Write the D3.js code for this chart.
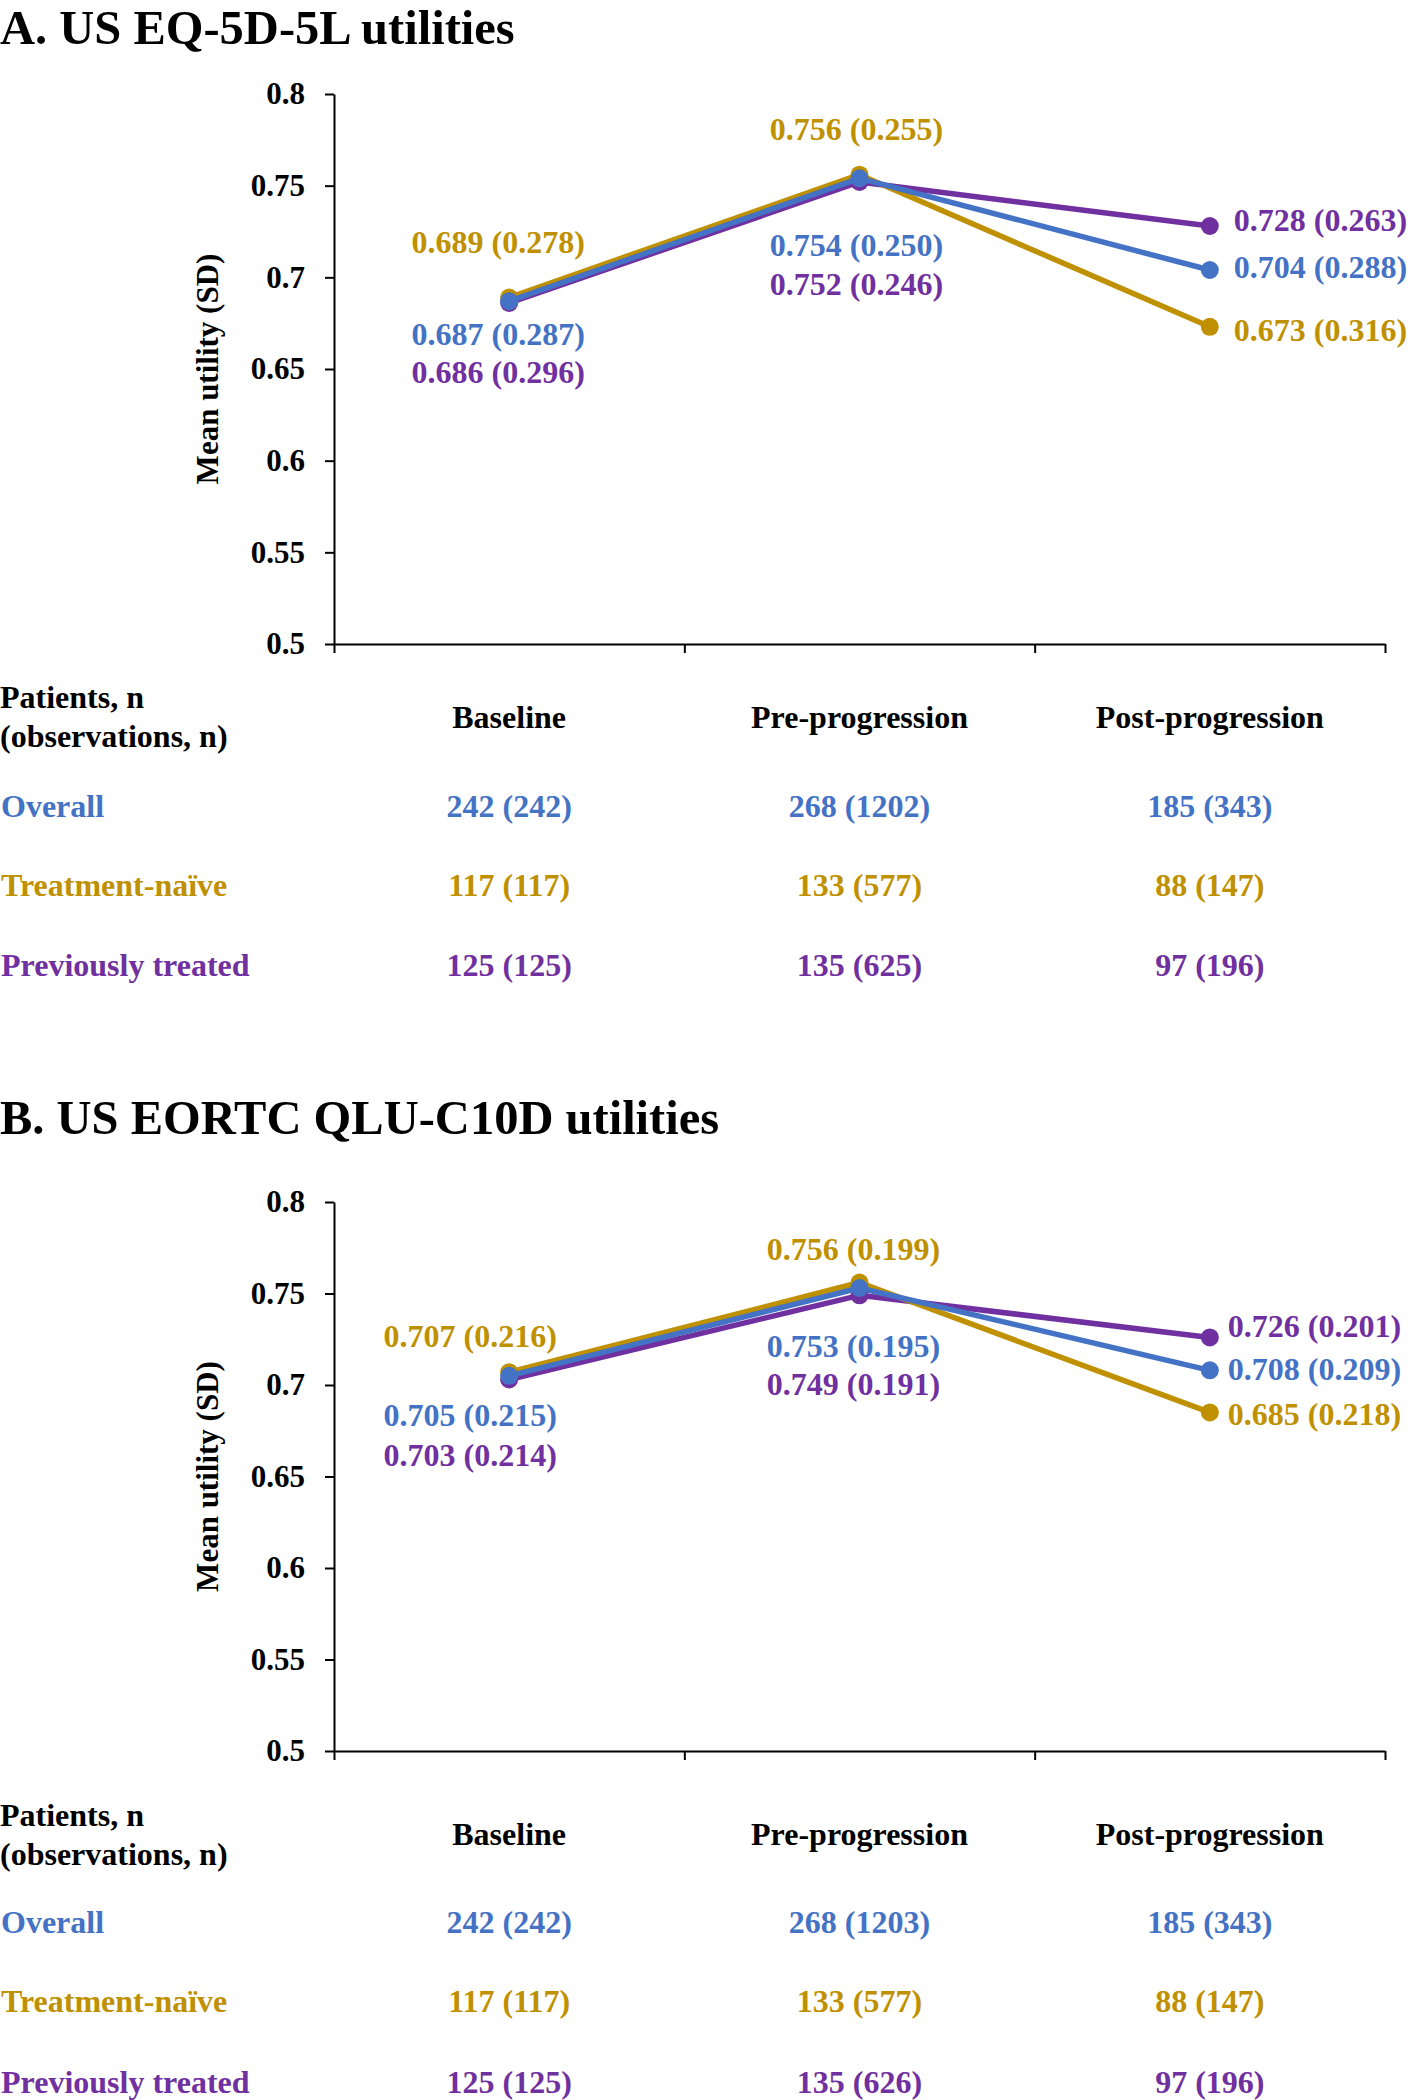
<!DOCTYPE html>
<html>
<head>
<meta charset="utf-8">
<script src="https://cdn.jsdelivr.net/npm/d3@7"></script>
<style>
  body { margin: 0; background: #fff; }
  svg { display: block; }
  text { font-family: "Liberation Serif", "Times New Roman", serif; font-weight: bold; }
</style>
</head>
<body>
<svg width="1411" height="2100"></svg>
<script>
// categories / series
const categories = ["Baseline", "Pre-progression", "Post-progression"];
const seriesNames = ["Overall", "Treatment-naïve", "Previously treated"];
const seriesColors = ["#4472C4", "#BF9000", "#7030A0"];
const yTicks = [0.5, 0.55, 0.6, 0.65, 0.7, 0.75, 0.8];

// A. EQ-5D-5L
const eqOverallMean = [0.687, 0.754, 0.704];
const eqOverallSd = [0.287, 0.250, 0.288];
const eqNaiveMean = [0.689, 0.756, 0.673];
const eqNaiveSd = [0.278, 0.255, 0.316];
const eqPrevMean = [0.686, 0.752, 0.728];
const eqPrevSd = [0.296, 0.246, 0.263];
const eqOverallPatients = [242, 268, 185];
const eqOverallObs = [242, 1202, 343];
const eqNaivePatients = [117, 133, 88];
const eqNaiveObs = [117, 577, 147];
const eqPrevPatients = [125, 135, 97];
const eqPrevObs = [125, 625, 196];

// B. QLU-C10D
const qluOverallMean = [0.705, 0.753, 0.708];
const qluOverallSd = [0.215, 0.195, 0.209];
const qluNaiveMean = [0.707, 0.756, 0.685];
const qluNaiveSd = [0.216, 0.199, 0.218];
const qluPrevMean = [0.703, 0.749, 0.726];
const qluPrevSd = [0.214, 0.191, 0.201];
const qluOverallPatients = [242, 268, 185];
const qluOverallObs = [242, 1203, 343];
const qluNaivePatients = [117, 133, 88];
const qluNaiveObs = [117, 577, 147];
const qluPrevPatients = [125, 135, 97];
const qluPrevObs = [125, 626, 196];

const svg = d3.select("svg");
const fmt3 = d3.format(".3f");

// x is shared by both panels
const left = 334, right = 1385;
const x = d3.scaleBand().domain(categories).range([left, right]).padding(0);
const xEdge = d3.scaleLinear().domain([0, categories.length]).range([left, right]);

function drawPanel(p) {
    const g = svg.append("g");
    const y = d3.scaleLinear().domain([0.5, 0.8]).range([p.bottom, p.top]);

    g.append("text")
        .attr("x", 0).attr("y", p.titleY)
        .attr("font-size", 48.5)
        .text(p.title);

    // y axis
    const ya = g.append("g")
        .attr("transform", `translate(${left},0)`)
        .call(d3.axisLeft(y).tickValues(yTicks).tickFormat(d => String(d))
            .tickSize(9).tickSizeOuter(0).tickPadding(20));
    ya.selectAll("text").attr("font-size", 31).attr("font-family", null).attr("fill", "#000");
    ya.selectAll("line, path").attr("stroke", "#000").attr("stroke-width", 2);

    // x axis: ticks on category boundaries, no labels
    const xa = g.append("g")
        .attr("transform", `translate(0,${p.bottom})`)
        .call(d3.axisBottom(xEdge).tickValues(d3.range(categories.length + 1))
            .tickFormat("").tickSize(9).tickSizeOuter(0));
    xa.selectAll("line, path").attr("stroke", "#000").attr("stroke-width", 2);

    g.append("text")
        .attr("transform", `translate(207,${(p.top + p.bottom) / 2}) rotate(-90)`)
        .attr("text-anchor", "middle")
        .attr("dy", "0.35em")
        .attr("font-size", 31)
        .text("Mean utility (SD)");

    const cx = c => x(c) + x.bandwidth() / 2;
    const line = d3.line()
        .x((d, i) => cx(categories[i]))
        .y(d => y(d));

    // purple, gold, then blue on top
    [2, 1, 0].forEach(s => {
        g.append("path")
            .attr("d", line(p.means[s]))
            .attr("fill", "none")
            .attr("stroke", seriesColors[s])
            .attr("stroke-width", 5.5)
            .attr("stroke-linejoin", "round");
        g.selectAll(null)
            .data(p.means[s])
            .join("circle")
            .attr("cx", (d, i) => cx(categories[i]))
            .attr("cy", d => y(d))
            .attr("r", 9)
            .attr("fill", seriesColors[s]);
    });

    // value labels
    p.means.forEach((ms, s) => {
        ms.forEach((m, i) => {
            const [dx, dy] = p.labelOffsets[s][i];
            g.append("text")
                .attr("x", cx(categories[i]) + dx)
                .attr("y", y(m) + dy)
                .attr("text-anchor", i === 2 ? "start" : "middle")
                .attr("font-size", 32)
                .attr("fill", seriesColors[s])
                .text(`${fmt3(m)} (${fmt3(p.sds[s][i])})`);
        });
    });

    // table under the chart
    const t = p.table;
    g.append("text").attr("x", 0).attr("y", t.patientsY).attr("dy", "0.35em")
        .attr("font-size", 32).text("Patients, n");
    g.append("text").attr("x", 0).attr("y", t.patientsY + 39).attr("dy", "0.35em")
        .attr("font-size", 32).text("(observations, n)");
    categories.forEach(c => {
        g.append("text").attr("x", cx(c)).attr("y", t.headerY).attr("dy", "0.35em")
            .attr("text-anchor", "middle").attr("font-size", 32).text(c);
    });
    seriesNames.forEach((name, s) => {
        const ry = t.rowY[s];
        g.append("text").attr("x", 1).attr("y", ry).attr("dy", "0.35em")
            .attr("font-size", 32).attr("fill", seriesColors[s]).text(name);
        categories.forEach((c, i) => {
            g.append("text").attr("x", cx(c)).attr("y", ry).attr("dy", "0.35em")
                .attr("text-anchor", "middle").attr("font-size", 32)
                .attr("fill", seriesColors[s])
                .text(`${p.patients[s][i]} (${p.obs[s][i]})`);
        });
    });
}

drawPanel({
    title: "A. US EQ-5D-5L utilities",
    titleY: 44,
    top: 94, bottom: 644,
    means: [eqOverallMean, eqNaiveMean, eqPrevMean],
    sds: [eqOverallSd, eqNaiveSd, eqPrevSd],
    patients: [eqOverallPatients, eqNaivePatients, eqPrevPatients],
    obs: [eqOverallObs, eqNaiveObs, eqPrevObs],
    labelOffsets: [
        [[-11, 44], [-3, 78], [24, 8]],
        [[-11, -45], [-3, -35], [24, 14]],
        [[-11, 80], [-3, 113], [24, 5]]
    ],
    table: { patientsY: 697, headerY: 717, rowY: [806, 885, 965] }
});

drawPanel({
    title: "B. US EORTC QLU-C10D utilities",
    titleY: 1134,
    top: 1202, bottom: 1751,
    means: [qluOverallMean, qluNaiveMean, qluPrevMean],
    sds: [qluOverallSd, qluNaiveSd, qluPrevSd],
    patients: [qluOverallPatients, qluNaivePatients, qluPrevPatients],
    obs: [qluOverallObs, qluNaiveObs, qluPrevObs],
    labelOffsets: [
        [[-39, 50], [-6, 69], [18, 10]],
        [[-39, -25], [-6, -23], [18, 13]],
        [[-39, 86], [-6, 100], [18, 0]]
    ],
    table: { patientsY: 1815, headerY: 1834, rowY: [1922, 2001, 2082] }
});
</script>
</body>
</html>
